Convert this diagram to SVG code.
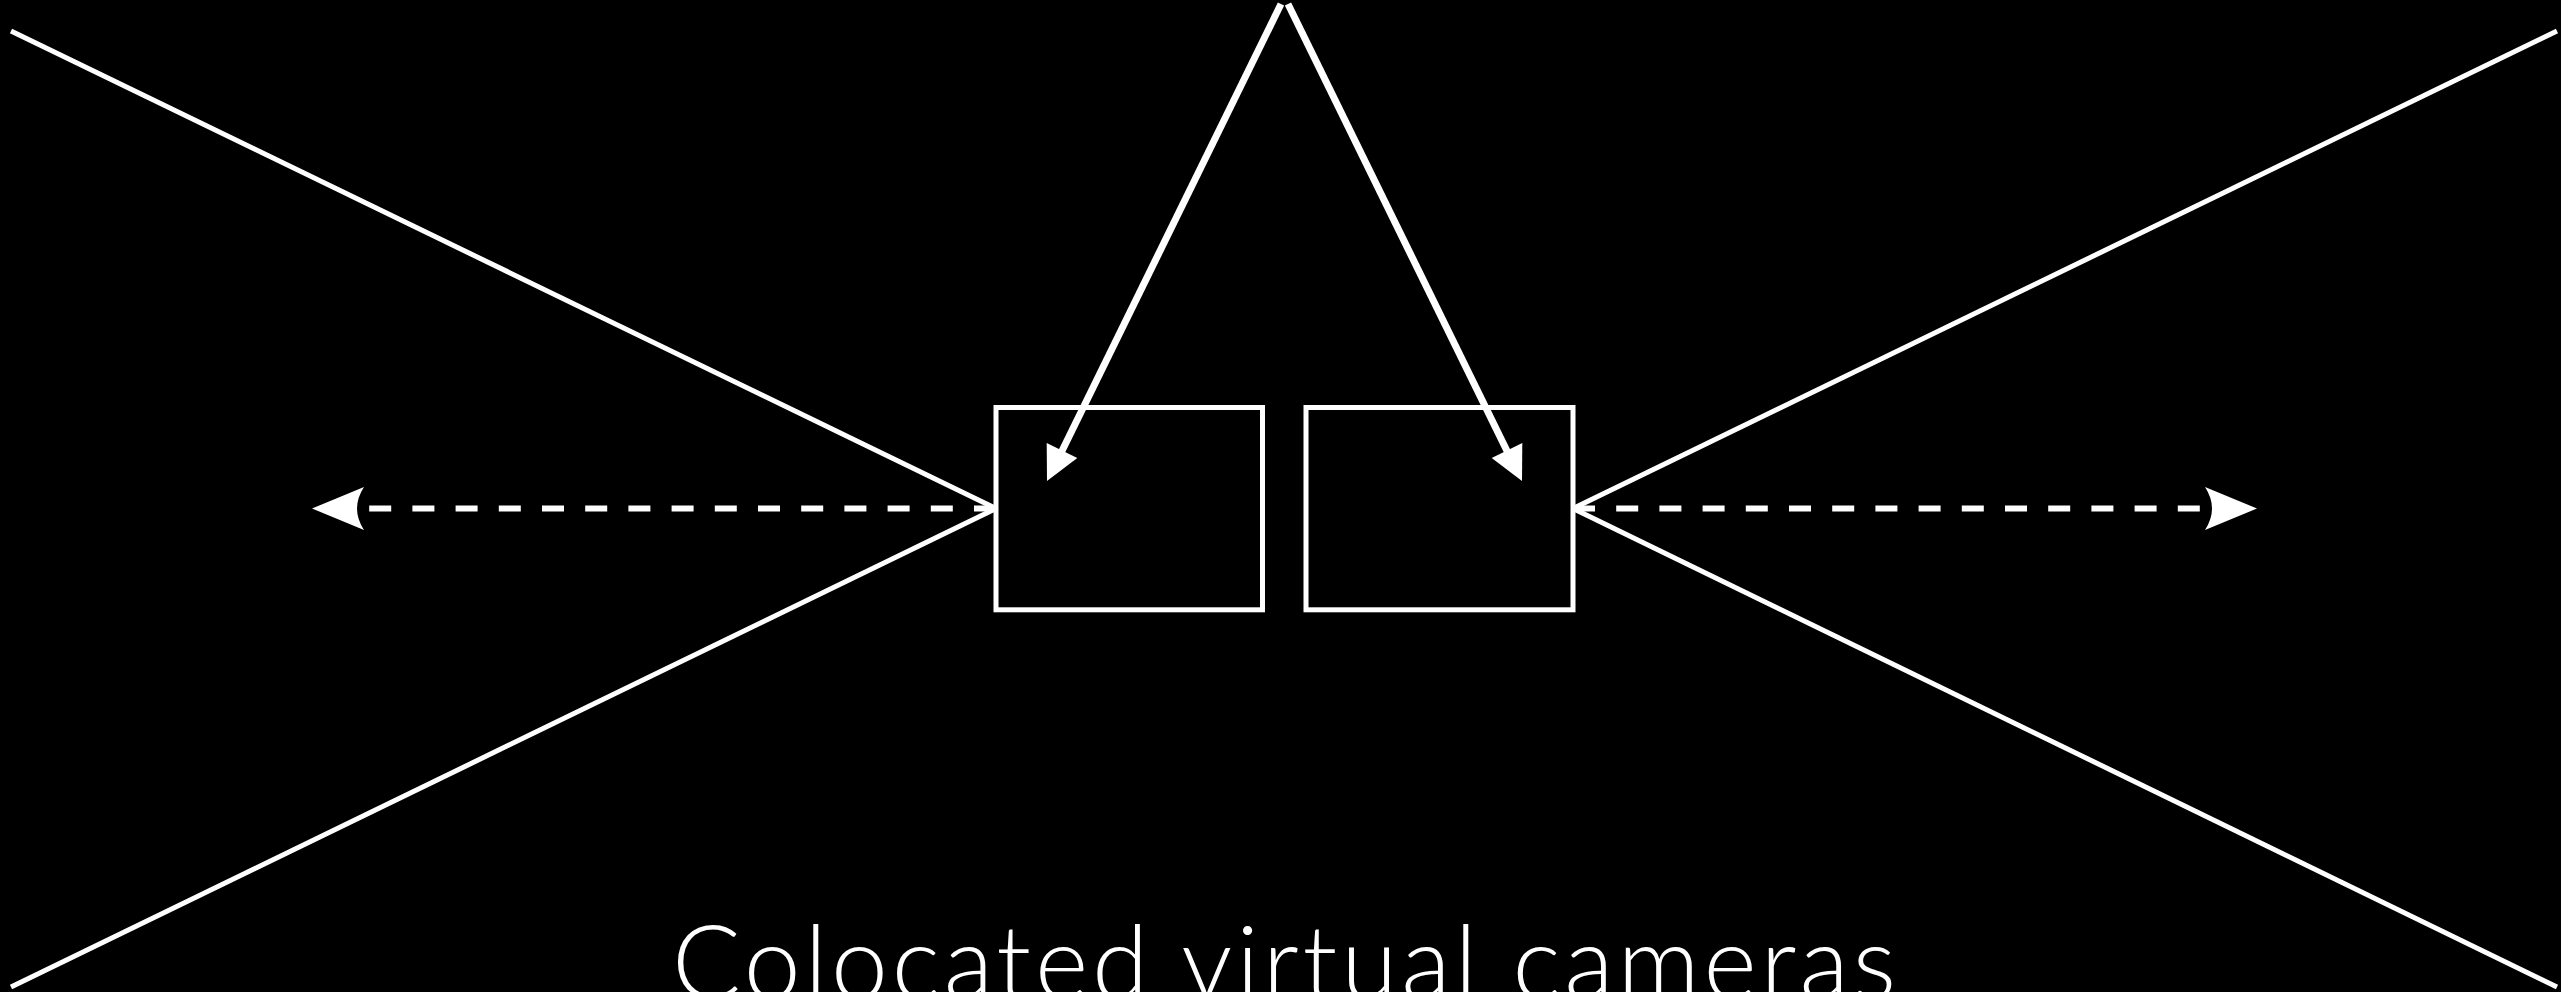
<svg xmlns="http://www.w3.org/2000/svg" width="2561" height="992" viewBox="0 0 2561 992">
  <style>
    .bg { fill: #000000; }
    .box { fill: none; stroke: #ffffff; stroke-width: 5; }
    .ray { fill: none; stroke: #ffffff; stroke-width: 5; stroke-linecap: butt; }
    .dash { fill: none; stroke: #ffffff; stroke-width: 6; stroke-dasharray: 22 21.2; }
    .view { fill: none; stroke: #ffffff; stroke-width: 7; stroke-linecap: butt; }
    .head { fill: #ffffff; stroke: none; }
    .label { fill: #ffffff; font-family: "Lato", "Noto Sans", "Liberation Sans", sans-serif; font-size: 102px; font-weight: 300; }
  </style>
  <rect class="bg" x="0" y="0" width="2561" height="992"/>

  <g id="connectors">
    <!-- frustum lines -->
    <line class="ray" x1="11" y1="31" x2="996" y2="508.5"/>
    <line class="ray" x1="11" y1="987" x2="996" y2="508.5"/>
    <line class="ray" x1="2557" y1="31" x2="1573" y2="508.5"/>
    <line class="ray" x1="2557" y1="987" x2="1573" y2="508.5"/>
    <!-- dashed view directions -->
    <line class="dash" x1="996" y1="508.5" x2="356" y2="508.5"/>
    <path class="head" d="M312,508.5 L364,487 Q350,508.5 364,530 Z"/>
    <line class="dash" x1="1573" y1="508.5" x2="2213" y2="508.5"/>
    <path class="head" d="M2257,508.5 L2205,487 Q2219,508.5 2205,530 Z"/>
    <!-- arrows from apex into cameras -->
    <line class="view" x1="1281" y1="4" x2="1060" y2="455"/>
    <path class="head" d="M1047,481 L1077.3,458 L1062,450.5 L1046.7,443 Z"/>
    <line class="view" x1="1288" y1="4" x2="1509" y2="455"/>
    <path class="head" d="M1522,481 L1491.7,458 L1507,450.5 L1522.3,443 Z"/>
  </g>

  <g id="camera-left">
    <rect class="box" x="996" y="407.5" width="266.5" height="202.3"/>
  </g>
  <g id="camera-right">
    <rect class="box" x="1306" y="407.5" width="267" height="202.3"/>
  </g>

  <g id="caption">
    <text class="label" x="1284" y="999" text-anchor="middle" textLength="1224" lengthAdjust="spacing">Colocated virtual cameras</text>
  </g>
</svg>
